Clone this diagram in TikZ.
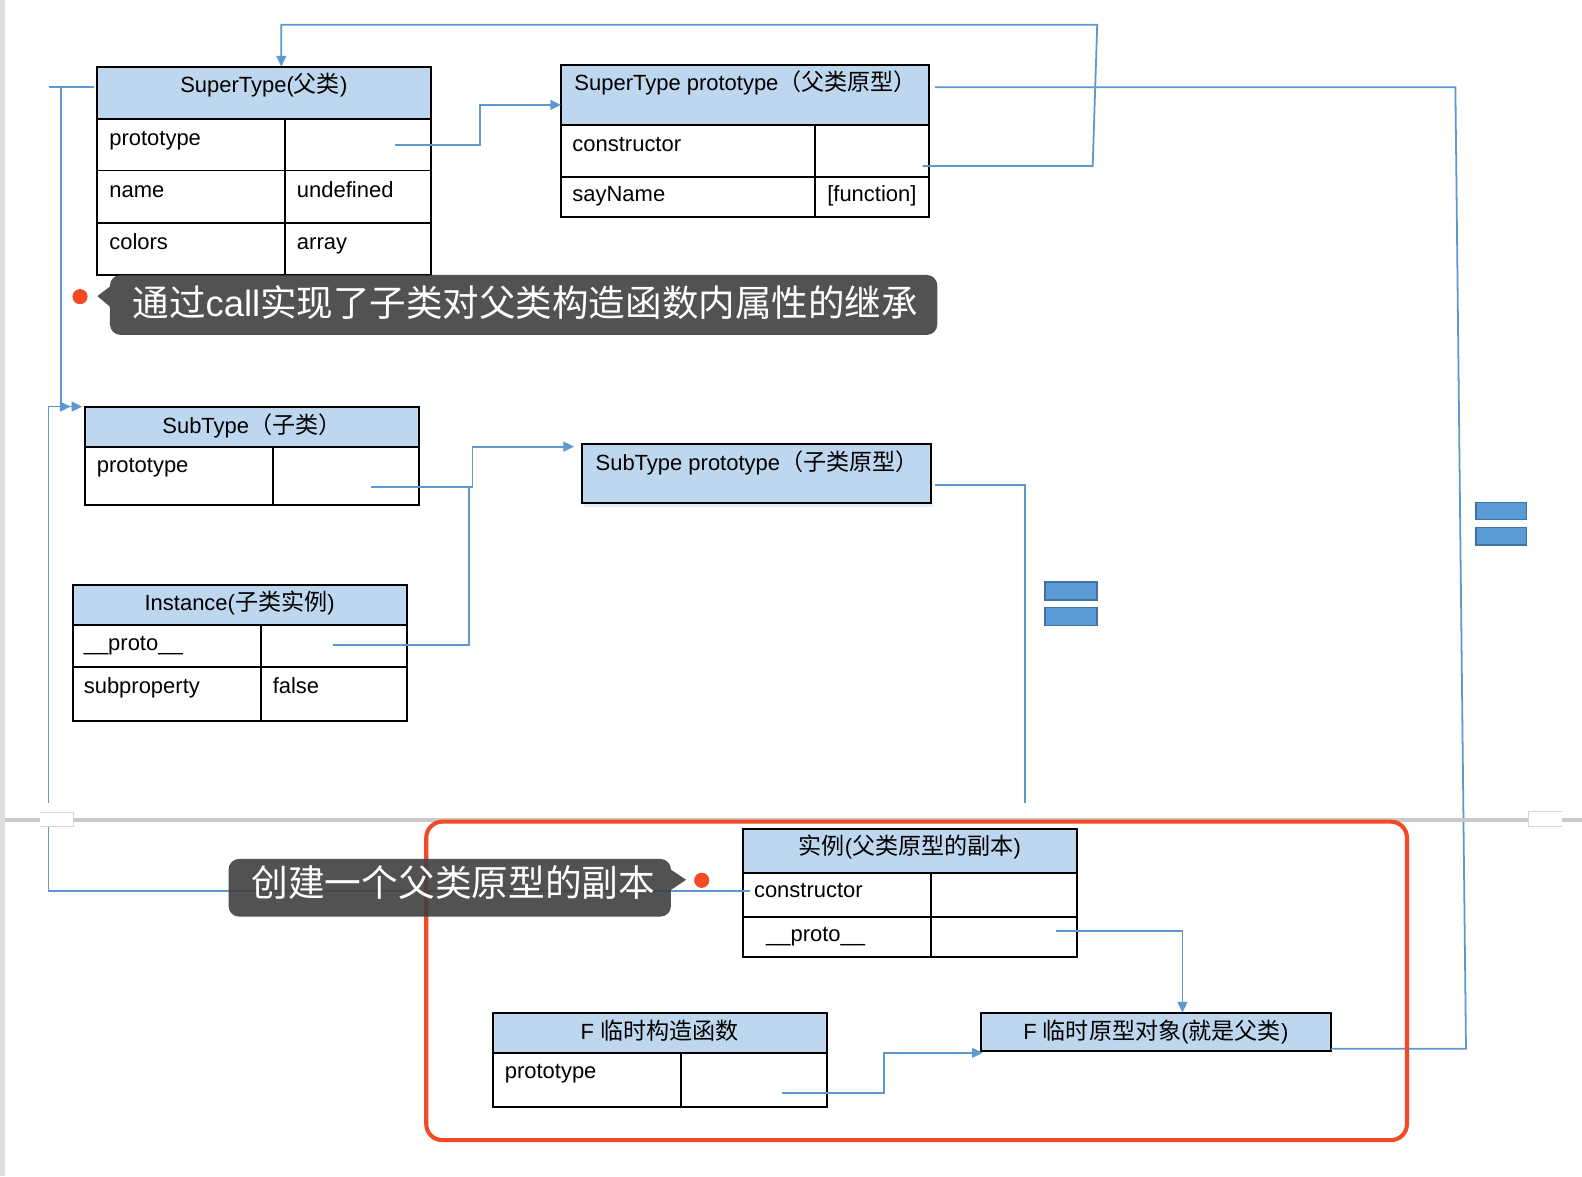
\documentclass[tikz,border=0pt]{standalone}
\usepackage{fontspec}
\setmainfont{Liberation Sans}
\newfontfamily\cjk[Scale=1.05]{Noto Sans CJK SC}
\newfontfamily\cjkbig{Noto Sans CJK SC}
\usetikzlibrary{arrows.meta,fit}
\definecolor{hdrblue}{RGB}{190,215,238}
\definecolor{lnblue}{RGB}{94,152,208}
\definecolor{eqfill}{RGB}{91,155,213}
\definecolor{eqedge}{RGB}{65,113,156}
\definecolor{redc}{RGB}{243,74,37}
\definecolor{pgray}{RGB}{202,202,202}
\definecolor{stripgray}{RGB}{222,222,222}
\begin{document}
\begin{tikzpicture}[x=0.02cm,y=-0.02cm,
  boxcell/.style={draw=black,line width=1.1pt,fill=white,inner sep=0pt,outer sep=0pt},
  boxhdr/.style={boxcell,fill=hdrblue},
  txt/.style={inner sep=0pt,font=\fontsize{12.4}{14}\selectfont},
  conn/.style={draw=lnblue,line width=1pt},
  arr/.style={conn,-{Triangle[length=6pt,width=5.5pt]}},
  eqbar/.style={fill=eqfill,draw=eqedge,line width=0.9pt},
  callout/.style={fill=black!75,fill opacity=0.9},
  bigtxt/.style={inner sep=0pt,text=white},
  marker/.style={draw=pgray!80,line width=0.6pt,fill=white}]
\useasboundingbox (0,0) rectangle (1568,1165.6);
\fill[white] (0,0) rectangle (1568,1165.6);
\fill[stripgray] (0,0) rectangle (5,1165.6);

% ---------- SuperType ----------
\node[boxhdr,fit={(96,66) (427,117.5)}] (stH) {};
\node[boxcell,fit={(96,117.5) (282.6,169)}] (stA1) {};
\node[boxcell,fit={(282.6,117.5) (427,169)}] (stA2) {};
\node[boxcell,fit={(96,169) (282.6,220.7)}] (stB1) {};
\node[boxcell,fit={(282.6,169) (427,220.7)}] (stB2) {};
\node[boxcell,fit={(96,220.7) (282.6,272.5)}] (stC1) {};
\node[boxcell,fit={(282.6,220.7) (427,272.5)}] (stC2) {};
\node[txt,anchor=base] (stT) at (261.5,92) {SuperType({\cjk 父类})};
\node[txt,anchor=base west] (stT1) at (108,144.4) {prototype};
\node[txt,anchor=base west] (stT2) at (108,195.6) {name};
\node[txt,anchor=base west] (stT3) at (294,195.6) {undefined};
\node[txt,anchor=base west] (stT4) at (108,246.8) {colors};
\node[txt,anchor=base west] (stT5) at (294,246.8) {array};

% ---------- SuperType prototype ----------
\node[boxhdr,fit={(556,64.4) (920.7,124)}] (spH) {};
\node[boxcell,fit={(556,124) (807.5,175)}] (spA1) {};
\node[boxcell,fit={(807.5,124) (920.7,175)}] (spA2) {};
\node[boxcell,fit={(556,175) (807.5,214.7)}] (spB1) {};
\node[boxcell,fit={(807.5,175) (920.7,214.7)}] (spB2) {};
\node[txt,anchor=base west] (spT) at (569,89.9) {SuperType prototype{\cjk （父类原型）}};
\node[txt,anchor=base west] (spT1) at (567,149.7) {constructor};
\node[txt,anchor=base west] (spT2) at (567,200) {sayName};
\node[txt,anchor=base west] (spT3) at (819.6,200) {[function]};

% ---------- SubType ----------
\node[boxhdr,fit={(84.2,403) (415.3,442.7)}] (sbH) {};
\node[boxcell,fit={(84.2,442.7) (270.4,500.5)}] (sbA1) {};
\node[boxcell,fit={(270.4,442.7) (415.3,500.5)}] (sbA2) {};
\node[txt,anchor=base] (sbT) at (249.7,429.5) {SubType{\cjk （子类）}};
\node[txt,anchor=base west] (sbT1) at (95.6,468.5) {prototype};

% ---------- SubType prototype ----------
\fill[hdrblue!70,opacity=0.6] (579,498.2) rectangle (925,503);
\node[boxhdr,fit={(577.3,440.4) (923,498.2)}] (sppH) {};
\node[txt,anchor=base west] (sppT) at (590,466.8) {SubType prototype{\cjk （子类原型）}};

% ---------- Instance ----------
\node[boxhdr,fit={(72,579.8) (403,619.4)}] (inH) {};
\node[boxcell,fit={(72,619.4) (258.7,660.7)}] (inA1) {};
\node[boxcell,fit={(258.7,619.4) (403,660.7)}] (inA2) {};
\node[boxcell,fit={(72,660.7) (258.7,714.3)}] (inB1) {};
\node[boxcell,fit={(258.7,660.7) (403,714.3)}] (inB2) {};
\node[txt,anchor=base] (inT) at (237.5,605) {Instance({\cjk 子类实例})};
\node[txt,anchor=base west] (inT1) at (82.7,645) {\_\_proto\_\_};
\node[txt,anchor=base west] (inT2) at (82.7,687) {subproperty};
\node[txt,anchor=base west] (inT3) at (270,687) {false};

% ---------- 实例(父类原型的副本) ----------
\node[boxhdr,fit={(736.6,821.6) (1067,864.9)}] (ixH) {};
\node[boxcell,fit={(736.6,864.9) (922.3,908.5)}] (ixA1) {};
\node[boxcell,fit={(922.3,864.9) (1067,908.5)}] (ixA2) {};
\node[boxcell,fit={(736.6,908.5) (922.3,948.1)}] (ixB1) {};
\node[boxcell,fit={(922.3,908.5) (1067,948.1)}] (ixB2) {};
\node[txt,anchor=base] (ixT) at (901.8,847.4) {{\cjk 实例}({\cjk 父类原型的副本})};
\node[txt,anchor=base west] (ixT1) at (747,890) {constructor};
\node[txt,anchor=base west] (ixT2) at (759,933) {\_\_proto\_\_};

% ---------- F 临时构造函数 ----------
\node[boxhdr,fit={(488.3,1003.6) (819.4,1043.3)}] (fcH) {};
\node[boxcell,fit={(488.3,1043.3) (675,1096.8)}] (fcA1) {};
\node[boxcell,fit={(675,1043.3) (819.4,1096.8)}] (fcA2) {};
\node[txt,anchor=base] (fcT) at (653.8,1030) {F {\cjk 临时构造函数}};
\node[txt,anchor=base west] (fcT1) at (500,1069) {prototype};

% ---------- F 临时原型对象 ----------
\node[boxhdr,fit={(971.9,1003.6) (1319.4,1041.3)}] (fpH) {};
\node[txt,anchor=base] (fpT) at (1145.6,1030) {F {\cjk 临时原型对象}({\cjk 就是父类})};

% ---------- equal signs ----------
\filldraw[eqbar] (1463,498) rectangle (1513,515);
\filldraw[eqbar] (1463,523) rectangle (1513,540);
\filldraw[eqbar] (1036,577) rectangle (1087,594.6);
\filldraw[eqbar] (1036,602) rectangle (1087,620);

% ---------- connector coordinates ----------
\coordinate (aStart) at (914.5,164.5);
\coordinate (aR1) at (1083,164.5);
\coordinate (aR2) at (1087.5,24.5);
\coordinate (aTop) at (278.8,24.5);
\coordinate (bStart) at (391.5,143.7);
\coordinate (bTurn) at (476,104);
\coordinate (cStart) at (926.6,86.5);
\coordinate (cR1) at (1442.5,86.5);
\coordinate (cR2) at (1453,1039.4);
\coordinate (cEnd) at (1319.4,1039.4);
\coordinate (dStart) at (93,86.5);
\coordinate (dLeft) at (48.6,86.5);
\coordinate (dJ) at (60.7,86.5);
\coordinate (dEnd) at (81.6,403);
\coordinate (eStart) at (743,883);
\coordinate (eCorner) at (48,883);
\coordinate (eEnd) at (70,403);
\coordinate (fStart) at (368,482.5);
\coordinate (fTurn) at (468.4,442.7);
\coordinate (fEnd) at (569,442.7);
\coordinate (gStart) at (330,639.3);
\coordinate (gTop) at (464.6,482.5);
\coordinate (hStart) at (927,481);
\coordinate (hEnd) at (1016,796);
\coordinate (iStart) at (1047,922.4);
\coordinate (iTurn) at (1172,922.4);
\coordinate (jStart) at (775,1083.4);
\coordinate (jTurn) at (876,1043.5);
\coordinate (jEnd) at (974,1043.5);

% ---------- connectors ----------
\draw[arr] (aStart) -- (aR1) -- (aR2) -- (aTop) -- (aTop |- stH.north);
\draw[arr] (bStart) -| (bTurn) -- (bTurn -| spH.west);
\draw[conn] (cStart) -- (cR1) -- (cR2) -- (cEnd);
\draw[conn] (dStart) -- (dLeft);
\draw[arr] (dJ) |- (dEnd);
\draw[arr] (eStart) -- (eCorner) |- (eEnd);
\draw[arr] (fStart) -| (fTurn) -- (fEnd);
\draw[conn] (gStart) -| (gTop);
\draw[conn] (hStart) -| (hEnd);
\draw[arr] (iStart) -- (iTurn) -- (iTurn |- fpH.north);
\draw[arr] (jStart) -| (jTurn) -- (jEnd);

% ---------- page break ----------
\fill[white] (43,796) rectangle (53,812);
\draw[pgray,line width=1.9pt] (5,812.7) -- (1568,812.7);
\draw[marker] (39.6,805.4) -- (72.7,805.4) -- (72.7,819.3) -- (39.6,819.3);
\draw[marker] (1547.7,804.5) -- (1514.6,804.5) -- (1514.6,819.3) -- (1547.7,819.3);

% ---------- red frame ----------
\draw[redc,line width=2.3pt,rounded corners=9] (422.5,814.4) rectangle (1394.5,1130);

% ---------- callout 1 ----------
\fill[callout] (109,284) [rounded corners=6] -- (109,272.5) -- (929,272.5) -- (929,332) -- (109,332) [sharp corners] -- (109,304) -- (96.5,293.5) -- cycle;
\node[bigtxt,anchor=base west,font=\fontsize{20.6}{24}\selectfont] (c1T) at (131,314) {{\cjkbig 通过}call{\cjkbig 实现了子类对父类构造函数内属性的继承}};
\fill[redc] (79.3,294) circle[radius=7.5];

% ---------- callout 2 ----------
\fill[callout] (665,862) [rounded corners=6] -- (665,851.3) -- (226.5,851.3) -- (226.5,908.5) -- (665,908.5) [sharp corners] -- (665,882) -- (680,872) -- cycle;
\node[bigtxt,anchor=base west,font=\fontsize{20.7}{25}\selectfont] (c2T) at (249,889) {\cjkbig 创建一个父类原型的副本};
\fill[redc] (695.5,872.5) circle[radius=7.5];
\end{tikzpicture}
\end{document}
